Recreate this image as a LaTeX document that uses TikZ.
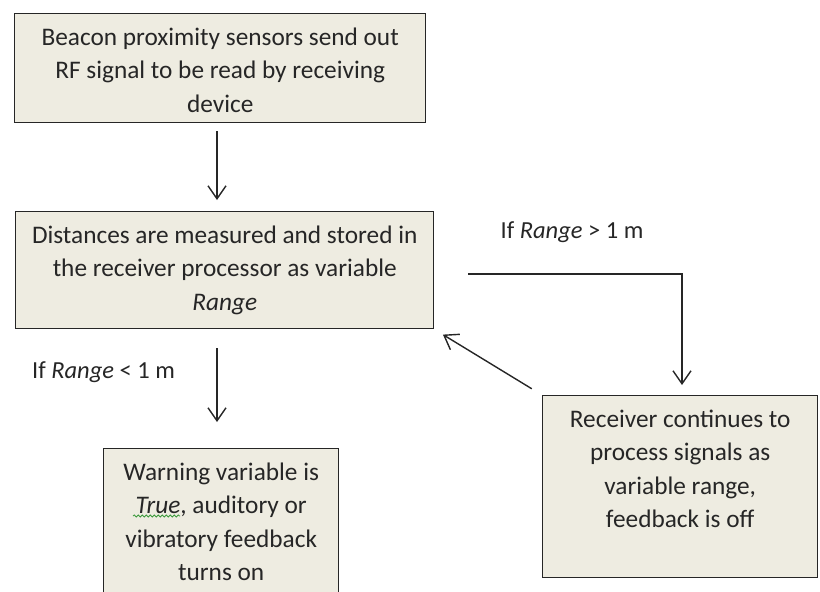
\documentclass[tikz,border=0pt]{standalone}
\usepackage{fontspec}
\setmainfont{Carlito}
\usetikzlibrary{positioning,arrows.meta,calc,decorations.pathmorphing}
\definecolor{boxtan}{HTML}{EEECE1}
\definecolor{inkgray}{HTML}{262626}
\definecolor{spellgreen}{HTML}{3C9A3C}

% text of a box: top aligned, centred lines
\newcommand{\boxlines}[3]{\parbox[t][#2][t]{#1}{\centering
  \fontsize{25.3}{33.5}\selectfont\vspace*{14pt}#3}}

\tikzset{
  flowbox/.style={draw=inkgray, fill=boxtan, line width=1.4pt, inner sep=0pt,
    anchor=north west, text=inkgray},
  flowarrow/.style={-{Straight Barb[length=13pt,width=18pt]}, line width=1.4pt, inkgray},
  condlabel/.style={text=inkgray, font=\fontsize{24.5}{28}\selectfont},
}

\begin{document}
\begin{tikzpicture}[x=1pt,y=-1pt]
  % page area, the lower boxes run off the bottom
  \useasboundingbox (0,0) rectangle (820,592);
  \clip (0,0) rectangle (820,592);

  % Boxes
  \node[flowbox] (beacon) at (14,13)
    {\boxlines{411pt}{109pt}{Beacon proximity sensors send out\\RF signal to be read by receiving\\device}};
  \node[flowbox] (dist) at (15,211)
    {\boxlines{418pt}{117pt}{Distances are measured and stored in\\the receiver processor as variable\\\textit{Range}}};
  \node[flowbox] (warn) at (103,448)
    {\boxlines{235pt}{170pt}{Warning variable is\\\textit{True}, auditory or\\vibratory feedback\\turns on}};
  \node[flowbox] (recv) at (542,395)
    {\boxlines{275pt}{182pt}{Receiver continues to\\process signals as\\variable range,\\feedback is off}};

  % spell-check squiggle under True
  \draw[spellgreen, line width=0.8pt, decorate,
    decoration={snake, amplitude=1pt, segment length=4pt}] (133,516) -- (180,516);

  % Conditions
  \node[condlabel] (gtlabel) at (572,232) {If \textit{Range} > 1 m};
  \node[condlabel] (ltlabel) at (103.5,372) {If \textit{Range} < 1 m};

  % Connectors
  \coordinate (downx) at (217,0);
  \coordinate (gtstart) at (468,274);
  \coordinate (gtturn) at (682,274);

  \draw[flowarrow, shorten <=8pt, shorten >=11pt] (beacon.south -| downx) -- (dist.north -| downx);
  \draw[flowarrow, shorten <=19pt, shorten >=26pt] (dist.south -| downx) -- (warn.north -| downx);
  \draw[flowarrow, shorten >=10pt] (gtstart) -- (gtturn) -- (gtturn |- recv.north);
  \draw[flowarrow, shorten <=12pt, shorten >=10pt] (recv.north west) -- (dist.south east);
\end{tikzpicture}
\end{document}
